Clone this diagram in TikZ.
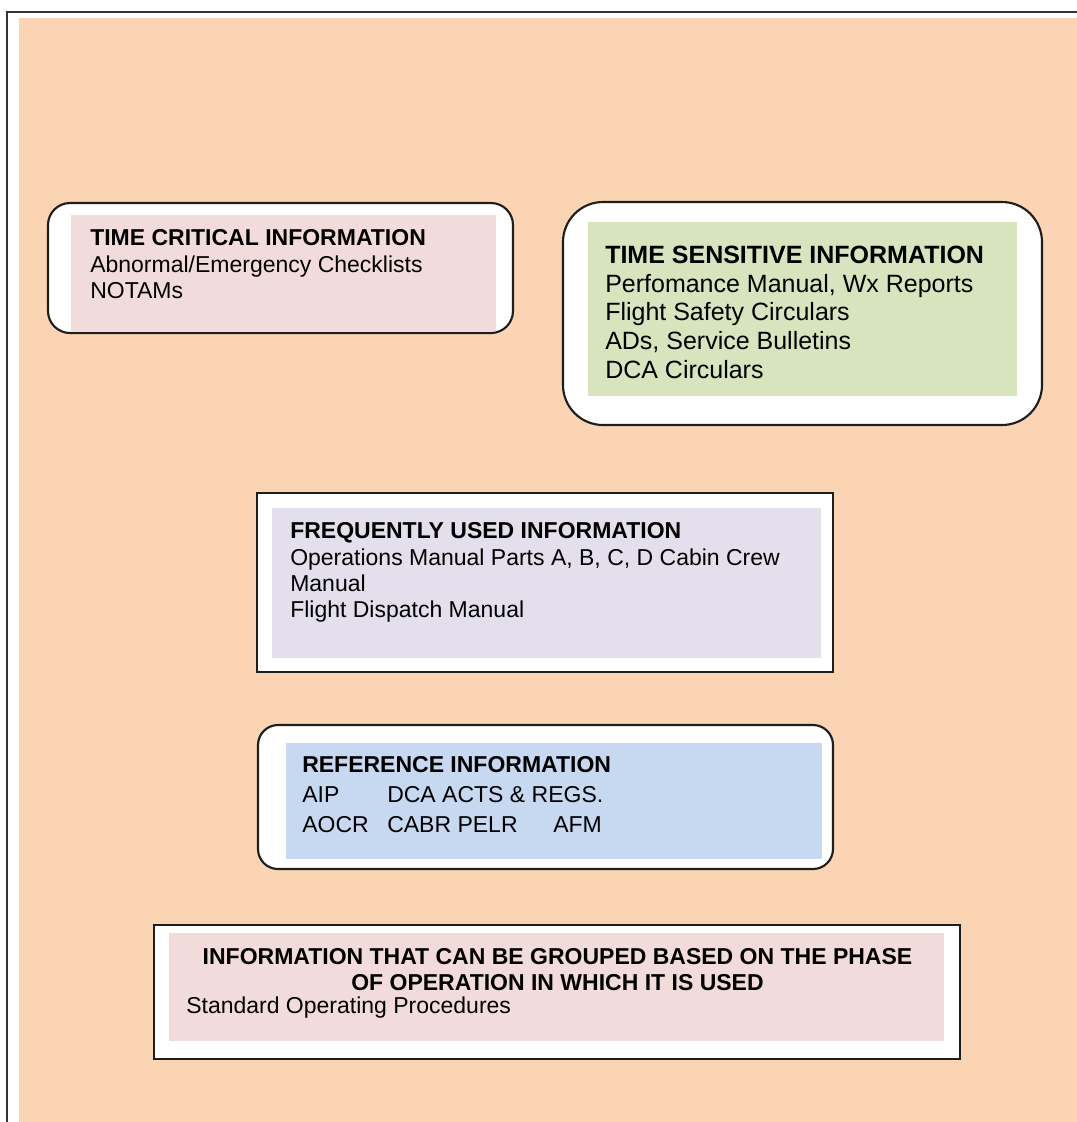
\documentclass[tikz,border=0pt]{standalone}
\usepackage{fontspec}
\setmainfont{Liberation Sans}
\definecolor{peach}{HTML}{FBD4B4}
\definecolor{pinkfill}{HTML}{F2DCDB}
\definecolor{greenfill}{HTML}{D7E4BD}
\definecolor{lavfill}{HTML}{E4DFEC}
\definecolor{bluefill}{HTML}{C6D9F1}
\definecolor{edge}{HTML}{1E1E1E}
\begin{document}
\begin{tikzpicture}[x=0.75pt,y=-0.75pt,
  outline/.style={draw=edge, line width=1.6pt},
  txt/.style={anchor=base west, inner sep=0pt, font=\fontsize{17.25}{20}\selectfont},
  ttl/.style={anchor=base west, inner sep=0pt, font=\fontsize{17.25}{20}\selectfont\bfseries},
  ctr/.style={anchor=base, inner sep=0pt, font=\fontsize{17.25}{20}\selectfont\bfseries},
  bigtxt/.style={anchor=base west, inner sep=0pt, font=\fontsize{18.75}{22}\selectfont},
  bigttl/.style={anchor=base west, inner sep=0pt, font=\fontsize{18.75}{22}\selectfont\bfseries}]

\useasboundingbox (0,0) rectangle (1077,1122);
\fill[white] (0,0) rectangle (1077,1122);
\fill[peach] (19,18) rectangle (1077,1122);
\draw[line width=2pt, black!80] (7,1122) -- (7,12) -- (1077,12);

% Box 1: time critical
\fill[white, rounded corners=16.5pt] (48,203) rectangle (513,333);
\fill[pinkfill] (71,215) rectangle (496,331);
\draw[outline, rounded corners=16.5pt] (48,203) rectangle (513,333);
\node[ttl] (t1) at (90,245) {TIME CRITICAL INFORMATION};
\node[txt] (t1a) at (90,272) {Abnormal/Emergency Checklists};
\node[txt] (t1b) at (90,298) {NOTAMs};

% Box 2: time sensitive
\fill[white, rounded corners=30pt] (563,202) rectangle (1042,425);
\fill[greenfill] (588,222) rectangle (1017,396);
\draw[outline, rounded corners=30pt] (563,202) rectangle (1042,425);
\node[bigttl] (t2) at (605,263) {TIME SENSITIVE INFORMATION};
\node[bigtxt] (t2a) at (605,292) {Perfomance Manual, Wx Reports};
\node[bigtxt] (t2b) at (605,320) {Flight Safety Circulars};
\node[bigtxt] (t2c) at (605,349) {ADs, Service Bulletins};
\node[bigtxt] (t2d) at (605,378) {DCA Circulars};

% Box 3: frequently used
\fill[white] (257,493) rectangle (833,672);
\fill[lavfill] (272,508) rectangle (821,658);
\draw[outline] (257,493) rectangle (833,672);
\node[ttl] (t3) at (290,538) {FREQUENTLY USED INFORMATION};
\node[txt] (t3a) at (290,565) {Operations Manual Parts A, B, C, D Cabin Crew};
\node[txt] (t3b) at (290,591) {Manual};
\node[txt] (t3c) at (290,617) {Flight Dispatch Manual};

% Box 4: reference
\fill[white, rounded corners=15pt] (258,725) rectangle (833,869);
\fill[bluefill] (286,743) rectangle (822,859);
\draw[outline, rounded corners=15pt] (258,725) rectangle (833,869);
\node[ttl] (t4) at (302,772) {REFERENCE INFORMATION};
\node[txt] (t4a) at (302,802) {AIP};
\node[txt] (t4b) at (387,802) {DCA ACTS \& REGS.};
\node[txt] (t4c) at (302,832) {AOCR};
\node[txt] (t4d) at (387,832) {CABR PELR};
\node[txt] (t4e) at (553,832) {AFM};

% Box 5: grouped by phase
\fill[white] (154,925) rectangle (960,1059);
\fill[pinkfill] (169,933) rectangle (944,1041);
\draw[outline] (154,925) rectangle (960,1059);
\node[ctr] (t5) at (557.5,964) {INFORMATION THAT CAN BE GROUPED BASED ON THE PHASE};
\node[ctr] (t5a) at (557.5,990) {OF OPERATION IN WHICH IT IS USED};
\node[txt] (t5b) at (186,1013) {Standard Operating Procedures};
\end{tikzpicture}
\end{document}
